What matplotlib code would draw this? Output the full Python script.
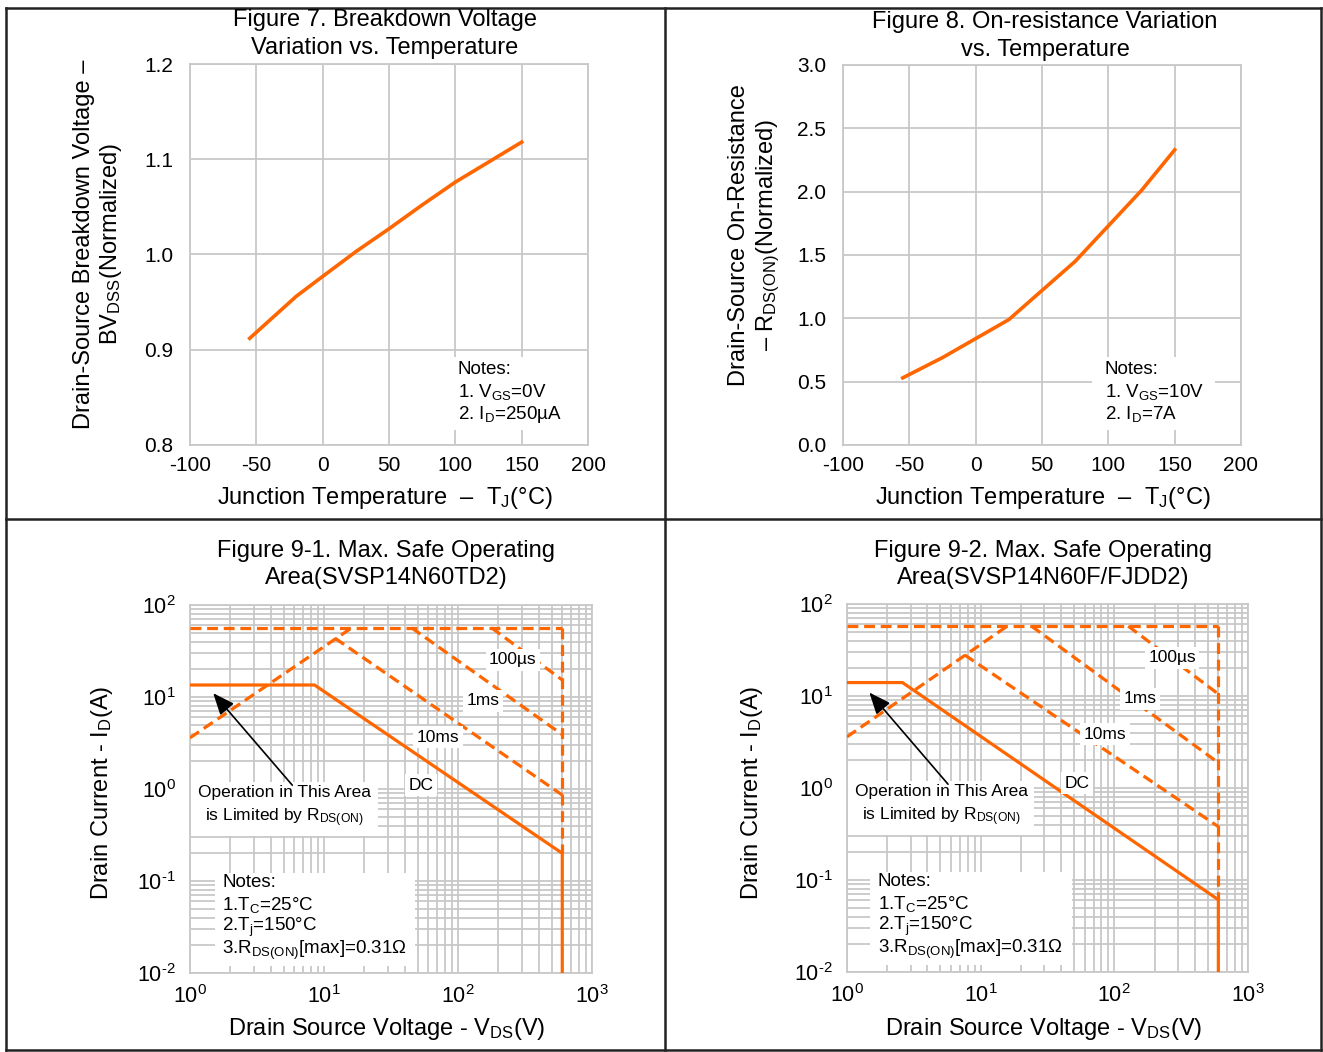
import matplotlib
matplotlib.use("Agg")
import matplotlib.pyplot as plt
from matplotlib.lines import Line2D
from matplotlib.patches import Rectangle
from matplotlib.ticker import LogLocator, NullFormatter

plt.rcParams["font.family"] = ["Liberation Sans", "DejaVu Sans"]
plt.rcParams["mathtext.fontset"] = "custom"
plt.rcParams["mathtext.rm"] = "Liberation Sans"
plt.rcParams["mathtext.it"] = "Liberation Sans:italic"
plt.rcParams["mathtext.bf"] = "Liberation Sans:bold"
plt.rcParams["axes.unicode_minus"] = False

ORANGE = "#FF6600"
GRID = "#C8C8C8"

# ----------------------------
# data
# ----------------------------
# Figure 7: breakdown voltage vs Tj
bv_temp = [-55, -20, 0, 25, 50, 75, 100, 125, 150]
bv_norm = [0.912, 0.956, 0.977, 1.003, 1.027, 1.052, 1.076, 1.097, 1.118]

# Figure 8: on-resistance vs Tj
rds_temp = [-55, -25, 0, 25, 50, 75, 100, 125, 150]
rds_norm = [0.53, 0.69, 0.84, 0.99, 1.22, 1.45, 1.73, 2.01, 2.33]

# Figure 9-1: SOA (TD2)
soa1_idm = 56.5          # pulsed current limit (A)
soa1_vmax = 600          # V
soa1_rds_v = [1, 16.1]
soa1_rds_i = [3.6, 56.5]
soa1_dc_v = [1, 8.5, 600, 600]
soa1_dc_i = [13.5, 13.5, 0.2, 0.01]
soa1_10ms_v = [12.1, 600]
soa1_10ms_i = [43.5, 0.86]
soa1_1ms_v = [45, 600]
soa1_1ms_i = [56.5, 3.9]
soa1_100us_v = [178, 600]
soa1_100us_i = [56.5, 15.3]

# Figure 9-2: SOA (F/FJDD2)
soa2_idm = 57.5
soa2_vmax = 600
soa2_rds_v = [1, 15.8]
soa2_rds_i = [3.6, 57.5]
soa2_dc_v = [1, 2.6, 600, 600]
soa2_dc_i = [14, 14, 0.061, 0.01]
soa2_10ms_v = [7.6, 600]
soa2_10ms_i = [27.9, 0.38]
soa2_1ms_v = [24, 600]
soa2_1ms_i = [57.5, 1.88]
soa2_100us_v = [127, 600]
soa2_100us_i = [57.5, 10.5]

W, H = 1323, 1052
fig = plt.figure(figsize=(W / 100, H / 100), dpi=100)


def px_rect(l, t, r, b):
    return [l / W, 1 - b / H, (r - l) / W, (b - t) / H]


def style_linear(ax):
    ax.grid(True, color=GRID, lw=1.3)
    ax.set_axisbelow(True)
    for s in ax.spines.values():
        s.set_color(GRID)
        s.set_linewidth(1.3)
    ax.tick_params(length=0, labelsize=15, colors="black")
    ax.tick_params(axis="y", pad=12)
    ax.tick_params(axis="x", pad=8)


def notes_box(ax, x0, x1, tx, lines):
    ax.add_patch(Rectangle((x0, 0.039), x1 - x0, 0.192, transform=ax.transAxes,
                           facecolor="white", edgecolor="none", zorder=1.5))
    for k, s in enumerate(lines):
        ax.text(tx, 0.199 - k * 0.059, s, transform=ax.transAxes, fontsize=13.5,
                va="center", ha="left", zorder=3)


# ----------------------------
# Figure 7
# ----------------------------
ax7 = fig.add_axes(px_rect(190, 64, 588, 445))
ax7.plot(bv_temp, bv_norm, color=ORANGE, lw=2.6, zorder=4)
ax7.set_xlim(-100, 200)
ax7.set_ylim(0.8, 1.2)
ax7.set_xticks(range(-100, 201, 50))
ax7.set_yticks([0.8, 0.9, 1.0, 1.1, 1.2])
ax7.set_yticklabels(["0.8", "0.9", "1.0", "1.1", "1.2"])
style_linear(ax7)
notes_box(ax7, 0.658, 0.955, 0.673,
          ["Notes:", r"1. V$_{\mathrm{GS}}$=0V", r"2. I$_{\mathrm{D}}$=250µA"])

# ----------------------------
# Figure 8
# ----------------------------
ax8 = fig.add_axes(px_rect(843, 65, 1241, 445))
ax8.plot(rds_temp, rds_norm, color=ORANGE, lw=2.6, zorder=4)
ax8.set_xlim(-100, 200)
ax8.set_ylim(0, 3.0)
ax8.set_xticks(range(-100, 201, 50))
ax8.set_yticks([0, 0.5, 1.0, 1.5, 2.0, 2.5, 3.0])
ax8.set_yticklabels(["0.0", "0.5", "1.0", "1.5", "2.0", "2.5", "3.0"])
style_linear(ax8)
notes_box(ax8, 0.626, 0.935, 0.658,
          ["Notes:", r"1. V$_{\mathrm{GS}}$=10V", r"2. I$_{\mathrm{D}}$=7A"])


# ----------------------------
# Figures 9-1 / 9-2 (SOA)
# ----------------------------
def pow_label(e):
    # hyphen instead of the mathtext minus sign, like the datasheet
    if e < 0:
        return r"$\mathrm{10^{\text{-}%d}}$" % (-e)
    return r"$\mathrm{10^{%d}}$" % e


def draw_soa(ax, idm, vmax, rds_v, rds_i, dc_v, dc_i, l10_v, l10_i, l1_v, l1_i,
             l100_v, l100_i, lbl_pos, notes_x):
    dash = dict(color=ORANGE, lw=2.3, dashes=(3.4, 1.8), zorder=4)
    ax.plot([1, vmax], [idm, idm], **dash)
    ax.plot([vmax, vmax], [idm, dc_i[2]], **dash)
    ax.plot(rds_v, rds_i, **dash)
    ax.plot(l10_v, l10_i, **dash)
    ax.plot(l1_v, l1_i, **dash)
    ax.plot(l100_v, l100_i, **dash)
    ax.plot(dc_v, dc_i, color=ORANGE, lw=2.3, zorder=4)

    ax.set_xscale("log")
    ax.set_yscale("log")
    ax.set_xlim(1, 1000)
    ax.set_ylim(0.01, 100)
    for a in (ax.xaxis, ax.yaxis):
        a.set_minor_locator(LogLocator(base=10, subs=range(2, 10), numticks=20))
        a.set_minor_formatter(NullFormatter())
    ax.set_xticks([1, 10, 100, 1000])
    ax.set_xticklabels([pow_label(e) for e in range(0, 4)])
    ax.set_yticks([0.01, 0.1, 1, 10, 100])
    ax.set_yticklabels([pow_label(e) for e in range(-2, 3)])
    ax.grid(True, which="both", color=GRID, lw=1.3)
    ax.set_axisbelow(True)
    for s in ax.spines.values():
        s.set_color(GRID)
        s.set_linewidth(1.3)
    ax.tick_params(which="both", length=0, labelsize=15.5)
    ax.tick_params(axis="y", pad=10)
    ax.tick_params(axis="x", pad=9)

    box = dict(facecolor="white", edgecolor="none", pad=2.5)
    for txt, (v, i) in zip(["100µs", "1ms", "10ms", "DC"], lbl_pos[:4]):
        ax.text(v, i, txt, fontsize=12.5, ha="center", va="center", bbox=box, zorder=5)
    v, i = lbl_pos[4]
    ax.text(v, i, "Operation in This Area\n" + r"is Limited by R$_{\mathrm{DS(ON)}}$",
            fontsize=12.5, ha="center", va="center", linespacing=1.45,
            bbox=dict(facecolor="white", edgecolor="none", pad=5), zorder=5)
    ax.annotate("", xy=lbl_pos[5], xytext=lbl_pos[6],
                arrowprops=dict(arrowstyle="-|>,head_length=0.6,head_width=0.25",
                                color="black", lw=1.2, mutation_scale=22,
                                shrinkA=0, shrinkB=0), zorder=6)

    ax.add_patch(Rectangle((notes_x[0], 0.019), notes_x[1] - notes_x[0], 0.253,
                           transform=ax.transAxes, facecolor="white",
                           edgecolor="none", zorder=1.5))
    notes = ["Notes:", r"1.T$_{\mathrm{C}}$=25°C", r"2.T$_{\mathrm{j}}$=150°C",
             r"3.R$_{\mathrm{DS(ON)}}$[max]=0.31Ω"]
    for k, s in enumerate(notes):
        ax.text(notes_x[2], 0.247 - k * 0.0615, s, transform=ax.transAxes,
                fontsize=13.5, va="center", ha="left", zorder=3)


ax91 = fig.add_axes(px_rect(190, 605, 592, 973))
draw_soa(ax91, soa1_idm, soa1_vmax, soa1_rds_v, soa1_rds_i, soa1_dc_v, soa1_dc_i,
         soa1_10ms_v, soa1_10ms_i, soa1_1ms_v, soa1_1ms_i, soa1_100us_v, soa1_100us_i,
         [(257, 25.3), (154, 9.06), (71, 3.67), (53, 1.1), (5.1, 0.64),
          (1.49, 11.0), (5.8, 1.1)],
         (0.062, 0.560, 0.080))

ax92 = fig.add_axes(px_rect(847, 604, 1248, 972))
draw_soa(ax92, soa2_idm, soa2_vmax, soa2_rds_v, soa2_rds_i, soa2_dc_v, soa2_dc_i,
         soa2_10ms_v, soa2_10ms_i, soa2_1ms_v, soa2_1ms_i, soa2_100us_v, soa2_100us_i,
         [(270, 25.9), (155, 9.3), (85, 3.86), (52.6, 1.13), (5.05, 0.64),
          (1.47, 10.9), (5.7, 1.1)],
         (0.057, 0.561, 0.077))

# ----------------------------
# titles and axis labels
# ----------------------------
tkw = dict(fontsize=17, ha="center", va="center", linespacing=1.32)
fig.text(385 / W, 1 - 34 / H, "Figure 7. Breakdown Voltage\nVariation vs. Temperature", **tkw)
fig.text(1045 / W, 1 - 36 / H, "Figure 8. On-resistance Variation\nvs. Temperature", **tkw)
fig.text(386 / W, 1 - 564.5 / H, "Figure 9-1. Max. Safe Operating\nArea(SVSP14N60TD2)", **tkw)
fig.text(1043 / W, 1 - 564.5 / H, "Figure 9-2. Max. Safe Operating\nArea(SVSP14N60F/FJDD2)", **tkw)

xl_t = r"Junction Temperature  –  T$_{\mathrm{J}}$(°C)"
fig.text(385 / W, 1 - 498 / H, xl_t, fontsize=17, ha="center", va="center")
fig.text(1043 / W, 1 - 498 / H, xl_t, fontsize=17, ha="center", va="center")
xl_v = r"Drain Source Voltage - V$_{\mathrm{DS}}$(V)"
fig.text(387 / W, 1 - 1029 / H, xl_v, fontsize=17, ha="center", va="center")
fig.text(1043.5 / W, 1 - 1029 / H, xl_v, fontsize=17, ha="center", va="center")

ykw = dict(fontsize=17, ha="center", va="center", rotation=90, linespacing=1.2,
           multialignment="center")
fig.text(98.5 / W, 1 - 244 / H,
         "Drain-Source Breakdown Voltage –\n" + r"BV$_{\mathrm{DSS}}$(Normalized)", **ykw)
fig.text(755 / W, 1 - 235 / H,
         "Drain-Source On-Resistance\n" + r"– R$_{\mathrm{DS(ON)}}$(Normalized)", **ykw)
fig.text(102 / W, 1 - 793 / H, r"Drain Current - I$_{\mathrm{D}}$(A)", **ykw)
fig.text(752 / W, 1 - 793 / H, r"Drain Current - I$_{\mathrm{D}}$(A)", **ykw)

# ----------------------------
# frame around the four panels
# ----------------------------
fkw = dict(color="#222222", lw=1.8, transform=fig.transFigure)
fig.add_artist(Line2D([6 / W, 1321 / W], [1 - 8 / H, 1 - 8 / H], **fkw))
fig.add_artist(Line2D([6 / W, 1321 / W], [1 - 519 / H, 1 - 519 / H], **fkw))
fig.add_artist(Line2D([6 / W, 1321 / W], [1 - 1050 / H, 1 - 1050 / H], **fkw))
fig.add_artist(Line2D([6 / W, 6 / W], [1 - 8 / H, 1 - 1050 / H], **fkw))
fig.add_artist(Line2D([665 / W, 665 / W], [1 - 8 / H, 1 - 1050 / H], **fkw))
fig.add_artist(Line2D([1321 / W, 1321 / W], [1 - 8 / H, 1 - 1050 / H], **fkw))

fig.savefig("out.png", dpi=100)
